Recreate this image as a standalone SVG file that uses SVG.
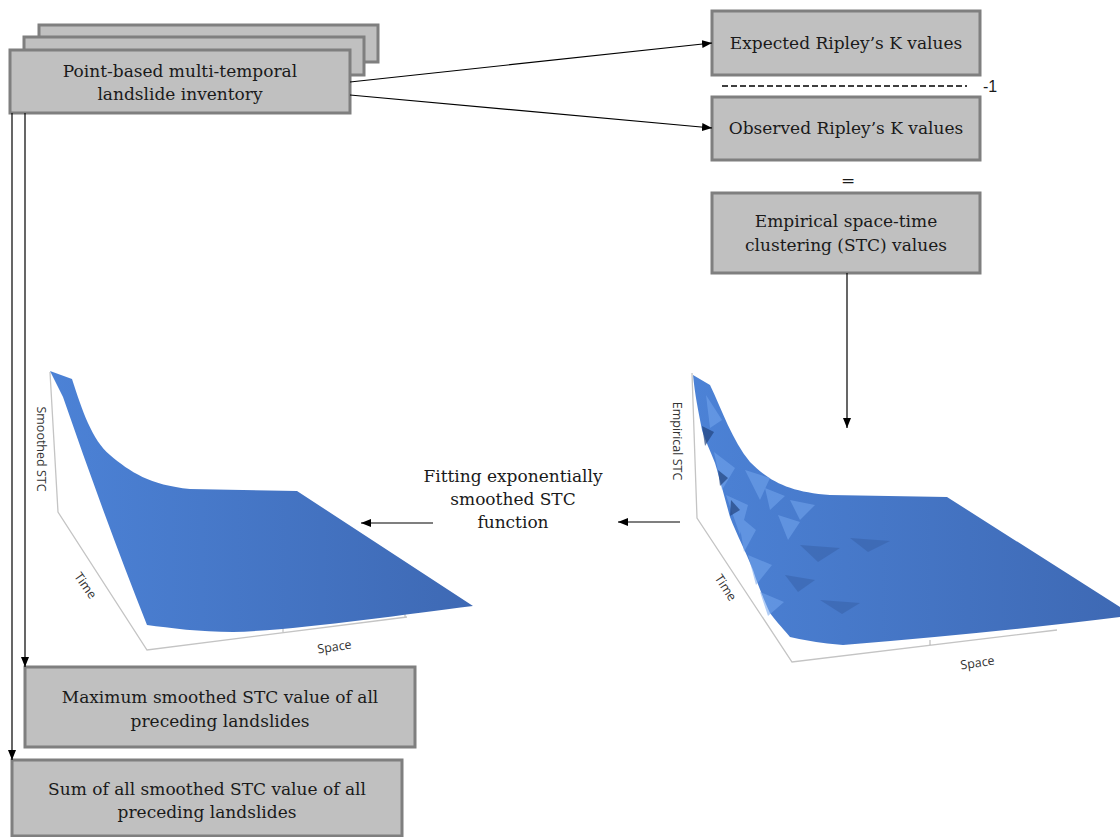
<svg xmlns="http://www.w3.org/2000/svg" width="1120" height="837" viewBox="0 0 1120 837">
<style>
.box{fill:#c0c0c0;stroke:#7f7f7f;stroke-width:3}
.t{font-family:"DejaVu Serif","Liberation Serif",serif;font-size:17px;fill:#1a1a1a;text-anchor:middle}
.ax{fill:none;stroke:#c4c4c4;stroke-width:1.3}
.al{font-family:"Open Sans","Liberation Sans",sans-serif;font-size:12.5px;fill:#333;text-anchor:middle}
.c{fill:none;stroke:#000;stroke-width:1.2}
</style>
<defs>
<marker id="ah" viewBox="0 0 10 10" refX="10" refY="5" markerWidth="10" markerHeight="10" markerUnits="userSpaceOnUse" orient="auto">
<path d="M0,1 L10,5 L0,9 Z" fill="#000"/>
</marker>
<linearGradient id="g1" x1="0" y1="0" x2="1" y2="0">
<stop offset="0" stop-color="#4c82d6"/>
<stop offset="1" stop-color="#3e69b4"/>
</linearGradient>
</defs>

<g id="inventory">
<rect class="box" x="39" y="25" width="339" height="37"/>
<rect class="box" x="24" y="37" width="340" height="38"/>
<rect class="box" x="10" y="50" width="340" height="63"/>
<text class="t" x="180" y="77">Point-based multi-temporal</text>
<text class="t" x="180" y="100">landslide inventory</text>
</g>

<g id="expected">
<rect class="box" x="712" y="11" width="268" height="64"/>
<text class="t" x="846" y="49">Expected Ripley’s K values</text>
</g>

<g id="fraction">
<line x1="722" y1="86" x2="967" y2="86" stroke="#000" stroke-width="1.3" stroke-dasharray="6,3"/>
<text x="983" y="92" font-family="Liberation Sans, sans-serif" font-size="16" fill="#1a1a1a">-1</text>
</g>

<g id="observed">
<rect class="box" x="712" y="97" width="268" height="63"/>
<text class="t" x="846" y="134">Observed Ripley’s K values</text>
</g>

<g id="equals">
<text class="t" x="848" y="186">=</text>
</g>

<g id="empirical">
<rect class="box" x="712" y="193" width="268" height="80"/>
<text class="t" x="846" y="227">Empirical space-time</text>
<text class="t" x="846" y="251">clustering (STC) values</text>
</g>

<g id="empirical-plot">
<path class="ax" d="M692,373 L697,518 L792,662 L1057,630 M930,645 L930,640"/>
<path fill="url(#g1)" d="M693,375 L710,385 C722,410 732,440 750,462 C770,482 790,492 830,495 L947,497 L1120,607 L1120,617 Q1000,632 843,645 Q810,642 790,637 C780,625 775,620 770,613 C762,595 758,585 753,570 C745,550 737,535 730,517 C724,495 720,480 715,463 C710,450 705,440 702,430 C698,410 695,395 693,375 Z"/>
<g fill="#74a6ee" opacity="0.55">
<polygon points="706,395 722,420 710,428"/>
<polygon points="714,452 735,468 722,490"/>
<polygon points="726,495 748,505 740,535"/>
<polygon points="738,515 756,530 744,552"/>
<polygon points="745,470 770,478 760,500"/>
<polygon points="765,488 785,496 770,510"/>
<polygon points="748,555 772,565 756,585"/>
<polygon points="760,592 784,602 768,616"/>
<polygon points="778,515 800,522 788,540"/>
<polygon points="790,500 815,505 800,520"/>
</g>
<g fill="#23457f" opacity="0.7">
<polygon points="702,426 714,432 705,446"/>
<polygon points="718,470 728,478 720,486"/>
<polygon points="731,500 740,510 730,516"/>
</g>
<g fill="#355da2" opacity="0.45">
<polygon points="800,545 840,548 818,562"/>
<polygon points="850,538 890,541 868,552"/>
<polygon points="820,600 860,603 842,614"/>
<polygon points="785,575 815,580 798,592"/>
</g>
<text class="al" transform="translate(673,441) rotate(90)">Empirical STC</text>
<text class="al" transform="translate(722,590) rotate(57)">Time</text>
<text class="al" transform="translate(978,667) rotate(-8)">Space</text>
</g>

<g id="fitting-label">
<text class="t" x="513" y="482">Fitting exponentially</text>
<text class="t" x="513" y="505">smoothed STC</text>
<text class="t" x="513" y="528">function</text>
</g>

<g id="smoothed-plot">
<path class="ax" d="M50,372 L58,512 L147,650 L407,617 M283,632 L283,627 M405,617 L405,612"/>
<path fill="url(#g1)" d="M50,371 L72,379 C82,410 92,440 110,455 C130,472 150,485 190,489 L297,491 L473,606 C400,615 300,630 233,632 C200,632 170,628 147,625 Q105,519 63,397 Z"/>
<text class="al" transform="translate(37,449) rotate(90)">Smoothed STC</text>
<text class="al" transform="translate(82,588) rotate(55)">Time</text>
<text class="al" transform="translate(335,651) rotate(-8)">Space</text>
</g>

<g id="maximum">
<rect class="box" x="25" y="667" width="390" height="80"/>
<text class="t" x="220" y="703">Maximum smoothed STC value of all</text>
<text class="t" x="220" y="727">preceding landslides</text>
</g>

<g id="sum">
<rect class="box" x="12" y="760" width="390" height="76"/>
<text class="t" x="207" y="795">Sum of all smoothed STC value of all</text>
<text class="t" x="207" y="818">preceding landslides</text>
</g>

<g id="connectors">
<line class="c" x1="350" y1="82" x2="712" y2="43" marker-end="url(#ah)"/>
<line class="c" x1="350" y1="95" x2="712" y2="128" marker-end="url(#ah)"/>
<line class="c" x1="847" y1="273" x2="847" y2="428" marker-end="url(#ah)"/>
<line class="c" x1="680" y1="522" x2="618" y2="522" marker-end="url(#ah)"/>
<line class="c" x1="433" y1="523" x2="361" y2="523" marker-end="url(#ah)"/>
<line class="c" x1="25" y1="113" x2="25" y2="667" marker-end="url(#ah)"/>
<line class="c" x1="12" y1="113" x2="12" y2="760" marker-end="url(#ah)"/>
</g>
</svg>
